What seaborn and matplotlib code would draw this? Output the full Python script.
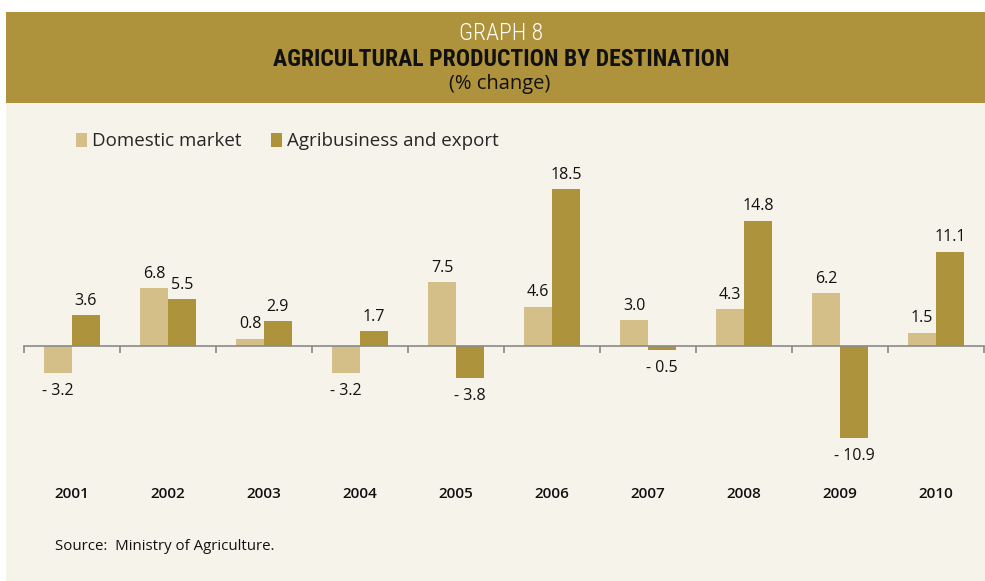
import matplotlib
matplotlib.use("Agg")
import matplotlib.pyplot as plt
import matplotlib.patches as mpatches
import matplotlib.transforms as mtransforms
import seaborn as sns
import pandas as pd

# --- data -------------------------------------------------------------
years = ["2001", "2002", "2003", "2004", "2005",
         "2006", "2007", "2008", "2009", "2010"]
domestic = [-3.2, 6.8, 0.8, -3.2, 7.5, 4.6, 3.0, 4.3, 6.2, 1.5]
agribusiness = [3.6, 5.5, 2.9, 1.7, -3.8, 18.5, -0.5, 14.8, -10.9, 11.1]
series_names = ["Domestic market", "Agribusiness and export"]

title_top = "GRAPH 8"
title_main = "AGRICULTURAL PRODUCTION BY DESTINATION"
title_sub = "(% change)"
source_note = "Source:  Ministry of Agriculture."

# --- style ------------------------------------------------------------
HEADER = "#ae923c"
PANEL = "#f6f3eb"
C_DOM = "#d4bf89"
C_AGR = "#ae933d"
AXIS_GREY = "#8a8a8a"

sns.set_style("white")
plt.rcParams["font.family"] = ["Open Sans", "DejaVu Sans"]
CONDENSED = ["Roboto Condensed", "DejaVu Sans"]

W, H = 985, 581
fig = plt.figure(figsize=(W / 100, H / 100), dpi=100)
fig.patch.set_facecolor("white")

def fx(px):
    return px / W

def fy(py):
    return 1 - py / H

# panel and header band
fig.add_artist(mpatches.Rectangle((fx(6), 0), fx(W - 6), fy(103),
                                  transform=fig.transFigure,
                                  facecolor=PANEL, edgecolor="none", zorder=0))
fig.add_artist(mpatches.Rectangle((fx(6), fy(103)), fx(W - 6), fy(12) - fy(103),
                                  transform=fig.transFigure,
                                  facecolor=HEADER, edgecolor="none", zorder=0))

fig.text(fx(501), fy(33), title_top, color="white", fontsize=17,
         family=CONDENSED, fontweight="light", ha="center", va="center")
fig.text(fx(501), fy(59.5), title_main, color="#111111", fontsize=17,
         family=CONDENSED, fontweight="bold", ha="center", va="center")
fig.text(fx(500), fy(84), title_sub, color="#111111", fontsize=14.5,
         ha="center", va="center")
fig.text(fx(55), fy(547), source_note, color="#111111", fontsize=10.8,
         ha="left", va="center")

# --- axes: zero line at y=346 px, 8.45 px per unit ---------------------
ppu = 8.45
y0 = 345.7
ymin, ymax = -17.0, 21.0
ax_bottom_px = y0 - ymin * ppu
ax_top_px = y0 - ymax * ppu
ax = fig.add_axes([fx(24), fy(ax_bottom_px), fx(984) - fx(24),
                   (ax_bottom_px - ax_top_px) / H])
ax.set_facecolor("none")

df = pd.DataFrame({
    "year": years * 2,
    "value": domestic + agribusiness,
    "series": [series_names[0]] * len(years) + [series_names[1]] * len(years),
})

sns.barplot(data=df, x="year", y="value", hue="series", order=years,
            hue_order=series_names, palette=[C_DOM, C_AGR],
            width=0.58, gap=0, dodge=True, errorbar=None,
            saturation=1, ax=ax, zorder=2, legend=False,
            edgecolor="none", linewidth=0)

ax.set_xlim(-0.5, len(years) - 0.5)
ax.set_ylim(ymin, ymax)
ax.set_xlabel("")
ax.set_ylabel("")
ax.set_yticks([])
for side in ["left", "right", "top"]:
    ax.spines[side].set_visible(False)
ax.spines["bottom"].set_position(("data", 0))
ax.spines["bottom"].set_color(AXIS_GREY)
ax.spines["bottom"].set_linewidth(1.2)
ax.spines["bottom"].set_zorder(3)
ax.set_xticks([i - 0.5 for i in range(len(years) + 1)])
ax.set_xticklabels([])
ax.tick_params(axis="x", direction="out", length=5, width=1.2,
               color=AXIS_GREY, bottom=True)

# year labels under the plot
trans = mtransforms.blended_transform_factory(ax.transData, fig.transFigure)
for i, yr in enumerate(years):
    ax.text(i, fy(494), yr, transform=trans, ha="center", va="center",
            fontsize=11, fontweight="semibold", color="#111111")

# value labels
for container in ax.containers:
    for bar in container:
        v = bar.get_y() + bar.get_height() if bar.get_y() >= 0 else bar.get_y()
        xc = bar.get_x() + bar.get_width() / 2
        txt = f"{v:.1f}" if v >= 0 else f"- {abs(v):.1f}"
        off = 10.5 if v >= 0 else -13
        ax.annotate(txt, (xc, v), xytext=(0, off), textcoords="offset points",
                    ha="center", va="center", fontsize=11.5, color="#111111")

# legend
handles = [mpatches.Patch(facecolor=c, edgecolor="none") for c in (C_DOM, C_AGR)]
fig.legend(handles, series_names, loc="center left",
           bbox_to_anchor=(fx(76), fy(141.5)), ncol=2, frameon=False,
           fontsize=13.5, handlelength=0.6, handleheight=0.7,
           handletextpad=0.28, columnspacing=1.52, borderaxespad=0,
           borderpad=0)

fig.savefig("out.png", dpi=100, facecolor=fig.get_facecolor())
